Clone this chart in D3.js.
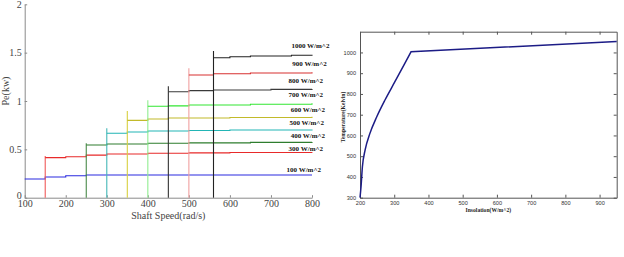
<!DOCTYPE html>
<html><head><meta charset="utf-8">
<script src="https://cdn.jsdelivr.net/npm/d3@7"></script>
<style>body{margin:0;background:#fff}svg{display:block}</style>
</head><body>
<script>
// ---------- Left chart data ----------
const irradiance = [100, 300, 400, 500, 600, 700, 800, 900, 1000];
const startSpeed = [100, 150, 250, 300, 350, 400, 450, 500, 560];
const peakPower  = [null, 0.431, 0.563, 0.718, 0.897, 1.007, 1.152, 1.338, 1.517];
const stepSpeeds = [
  [100, 150, 200, 250, 800],
  [150, 200, 250, 300, 400, 500, 600, 800],
  [250, 300, 400, 500, 650, 800],
  [300, 350, 400, 500, 600, 800],
  [350, 400, 450, 600, 800],
  [400, 450, 500, 650, 800],
  [450, 500, 560, 700, 800],
  [500, 560, 650, 800],
  [560, 600, 650, 750, 800]
];
const stepPowers = [
  [0.193, 0.214, 0.227, 0.235, 0.235],
  [0.414, 0.424, 0.440, 0.452, 0.460, 0.464, 0.468, 0.470],
  [0.545, 0.555, 0.563, 0.567, 0.572, 0.575],
  [0.666, 0.680, 0.690, 0.695, 0.700, 0.705],
  [0.800, 0.814, 0.824, 0.830, 0.838],
  [0.945, 0.950, 0.958, 0.967, 0.976],
  [1.096, 1.107, 1.114, 1.120, 1.124],
  [1.269, 1.282, 1.290, 1.297],
  [1.448, 1.458, 1.465, 1.473, 1.479]
];
const labelSpeed = [738, 743, 748, 745, 748, 743, 743, 752, 750];
const labelPower = [0.279, 0.504, 0.638, 0.770, 0.907, 1.062, 1.200, 1.375, 1.569];
const xTicksL = [100, 200, 300, 400, 500, 600, 700, 800];
const yTicksL = [0, 0.5, 1, 1.5, 2];

// ---------- Right chart data ----------
const insolation  = [200, 203, 207, 215, 229, 249, 273, 302, 329, 349, 950];
const temperature = [300, 353, 449, 530, 610, 690, 771, 859, 941, 1003, 1053];
const kinkInsolation = 349;
const xTicksR = [200, 300, 400, 500, 600, 700, 800, 900];
const yTicksR = [300, 400, 500, 600, 700, 800, 900, 1000];

// ---------- styles ----------
const lineColors = ["#2a2ae0", "#e82a2a", "#2e7d2e", "#22b5b5", "#c2ba2a", "#33e633", "#3a3a3a", "#d83030", "#222222"];
const vertColors = [null, "#f05a5a", "#4a8a4a", "#44b8b8", "#d8d040", "#90ee90", "#333333", "#f0a0a0", "#222222"];

const W = 624, H = 257;
const svg = d3.select("body").append("svg").attr("width", W).attr("height", H);

// ===== Left chart =====
const xL = d3.scaleLinear().domain([100, 800]).range([24.7, 312]);
const yL = d3.scaleLinear().domain([0, 2]).range([197.7, 4.3]);
const gL = svg.append("g");
const serif = "'Liberation Serif','Times New Roman',serif";

const axB = gL.append("g").attr("transform", `translate(0,${yL(0)})`)
  .call(d3.axisBottom(xL).tickValues(xTicksL).tickSizeInner(-2.5).tickSizeOuter(0).tickPadding(2.5).tickFormat(d3.format("d")));
const axLft = gL.append("g").attr("transform", `translate(${xL(100)},0)`)
  .call(d3.axisLeft(yL).tickValues(yTicksL).tickSizeInner(-2.5).tickSizeOuter(0).tickPadding(3).tickFormat(d => d));
[axB, axLft].forEach(a => {
  a.select(".domain").attr("stroke", "#8a8a8a");
  a.selectAll(".tick line").attr("stroke", "#8a8a8a");
  a.selectAll("text").attr("font-family", serif).attr("font-size", 10).attr("fill", "#444");
});
axLft.selectAll(".tick text").filter(d => d === 0).attr("dy", "0.1em");

const line = d3.line().x(d => xL(d[0])).y(d => yL(d[1])).curve(d3.curveStepAfter);
irradiance.forEach((irr, i) => {
  if (peakPower[i] !== null) {
    gL.append("line")
      .attr("x1", xL(startSpeed[i])).attr("x2", xL(startSpeed[i]))
      .attr("y1", yL(0)).attr("y2", yL(peakPower[i]))
      .attr("stroke", vertColors[i]).attr("stroke-width", 1.1);
  }
  const pts = stepSpeeds[i].map((s, j) => [s, stepPowers[i][j]]);
  gL.append("path").attr("d", line(pts)).attr("fill", "none")
    .attr("stroke", lineColors[i]).attr("stroke-width", 1.1);
});
irradiance.forEach((irr, i) => {
  gL.append("text").attr("x", xL(labelSpeed[i])).attr("y", yL(labelPower[i]))
    .attr("dominant-baseline", "middle")
    .attr("font-family", serif)
    .attr("font-weight", "bold").attr("font-size", 7).attr("fill", "#111")
    .text(irr + " W/m^2");
});

gL.append("text").attr("x", (xL(100) + xL(800)) / 2).attr("y", 219)
  .attr("text-anchor", "middle")
  .attr("font-family", serif).attr("font-size", 10).attr("fill", "#444")
  .text("Shaft Speed(rad/s)");
gL.append("text").attr("transform", "translate(8.5,91) rotate(-90)")
  .attr("text-anchor", "middle")
  .attr("font-family", serif).attr("font-size", 10).attr("fill", "#444")
  .text("Pe(kw)");

// ===== Right chart =====
const xR = d3.scaleLinear().domain([200, 950]).range([360, 616.7]);
const yR = d3.scaleLinear().domain([300, 1100]).range([197.7, 31.7]);
const gR = svg.append("g");
const fontR = "'Liberation Sans',Arial,sans-serif";

const axRB = gR.append("g").attr("transform", `translate(0,${yR(300)})`)
  .call(d3.axisBottom(xR).tickValues(xTicksR).tickSizeInner(-3).tickSizeOuter(0).tickPadding(3).tickFormat(d3.format("d")));
const axRT = gR.append("g").attr("transform", `translate(0,${yR(1100)})`)
  .call(d3.axisTop(xR).tickValues(xTicksR).tickSizeInner(-3).tickSizeOuter(0).tickFormat(""));
const axRL = gR.append("g").attr("transform", `translate(${xR(200)},0)`)
  .call(d3.axisLeft(yR).tickValues(yTicksR).tickSizeInner(-3).tickSizeOuter(0).tickPadding(4).tickFormat(d3.format("d")));
const axRR = gR.append("g").attr("transform", `translate(${xR(950)},0)`)
  .call(d3.axisRight(yR).tickValues(yTicksR).tickSizeInner(-3).tickSizeOuter(0).tickFormat(""));
[axRB, axRT, axRL, axRR].forEach(a => {
  a.select(".domain").attr("stroke", "#555");
  a.selectAll(".tick line").attr("stroke", "#555");
  a.selectAll("text").attr("font-family", fontR).attr("font-size", 5.6).attr("fill", "#333");
});

const curvePts = insolation.map((x, i) => [x, temperature[i]]);
const rise = curvePts.filter(d => d[0] <= kinkInsolation);
const plateau = curvePts.filter(d => d[0] >= kinkInsolation);
const riseD = d3.line().x(d => xR(d[0])).y(d => yR(d[1])).curve(d3.curveMonotoneX)(rise);
const plateauD = d3.line().x(d => xR(d[0])).y(d => yR(d[1]))(plateau);
gR.append("path").attr("d", riseD + plateauD.replace(/^M/, "L"))
  .attr("fill", "none").attr("stroke", "#1c1c86").attr("stroke-width", 1.5)
  .attr("stroke-linejoin", "miter");

gR.append("text").attr("x", (xR(200) + xR(950)) / 2).attr("y", 211.5)
  .attr("text-anchor", "middle")
  .attr("font-family", serif).attr("font-weight", "bold")
  .attr("font-size", 5.6).attr("fill", "#222")
  .text("Insolation(W/m^2)");
gR.append("text").attr("transform", "translate(345,117) rotate(-90)")
  .attr("text-anchor", "middle")
  .attr("font-family", serif).attr("font-weight", "bold")
  .attr("font-size", 5.6).attr("fill", "#222")
  .text("Temperature(Kelvin)");
</script>
</body></html>
